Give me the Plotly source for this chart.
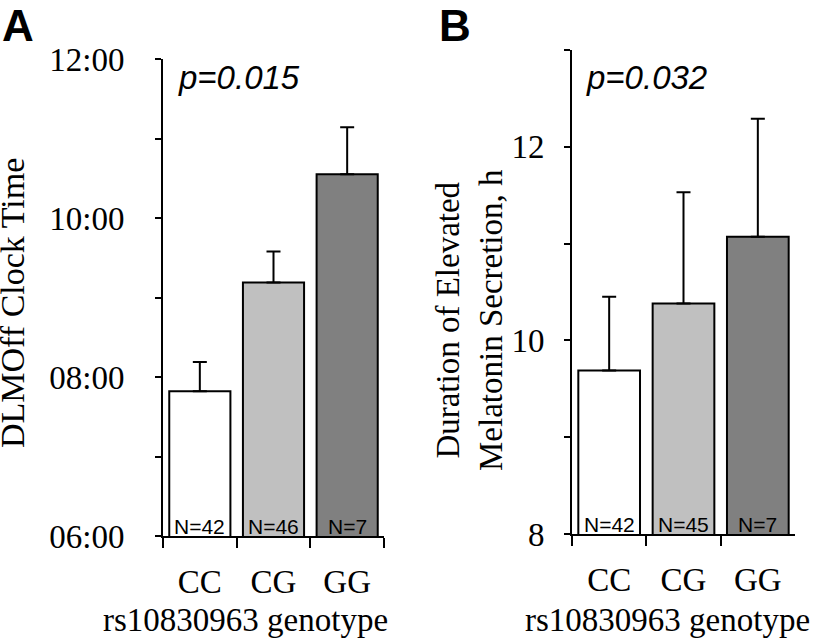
import plotly.graph_objects as go

genotypes = ["CC", "CG", "GG"]
colors = ["#ffffff", "#c0c0c0", "#808080"]

# Panel A: DLMOff clock time (hours)
dlmoff_mean = [7.82, 9.19, 10.55]
dlmoff_err = [0.37, 0.39, 0.59]
dlmoff_n = ["N=42", "N=46", "N=7"]
a_tickvals = [6, 7, 8, 9, 10, 11, 12]
a_ticktext = ["06:00", "", "08:00", "", "10:00", "", "12:00"]

# Panel B: duration of elevated melatonin secretion (h)
dur_mean = [9.69, 10.38, 11.07]
dur_err = [0.76, 1.15, 1.22]
dur_n = ["N=42", "N=45", "N=7"]
b_tickvals = [8, 9, 10, 11, 12, 13]
b_ticktext = ["8", "", "10", "", "12", ""]

SERIF = "Liberation Serif, Times New Roman, serif"
SANS = "Liberation Sans, Arial, sans-serif"
W, H = 817, 641

def px(x):
    return x / W

def py(y):
    return 1 - y / H

fig = go.Figure()

fig.add_trace(go.Bar(
    x=genotypes, y=dlmoff_mean, xaxis="x", yaxis="y",
    marker=dict(color=colors, line=dict(color="black", width=2)),
    error_y=dict(type="data", symmetric=False, array=dlmoff_err,
                 arrayminus=[0, 0, 0], color="black", thickness=2, width=7),
    showlegend=False, hoverinfo="skip",
))
fig.add_trace(go.Bar(
    x=genotypes, y=dur_mean, xaxis="x2", yaxis="y2",
    marker=dict(color=colors, line=dict(color="black", width=2)),
    error_y=dict(type="data", symmetric=False, array=dur_err,
                 arrayminus=[0, 0, 0], color="black", thickness=2, width=7),
    showlegend=False, hoverinfo="skip",
))

xcommon = dict(showline=True, linecolor="black", linewidth=2, ticks="outside",
               ticklen=10, tickwidth=2, tickcolor="black", tickson="boundaries",
               showgrid=False, zeroline=False, ticklabelstandoff=15,
               automargin=False, type="category",
               tickfont=dict(family=SERIF, size=33, color="black"))
ycommon = dict(showline=True, linecolor="black", linewidth=2, ticks="outside",
               ticklen=6, tickwidth=2, tickcolor="black",
               showgrid=False, zeroline=False, automargin=False,
               tickfont=dict(family=SERIF, size=33, color="black"))

fig.update_layout(
    template="none",
    width=W, height=H,
    margin=dict(l=0, r=0, t=0, b=0, pad=0, autoexpand=False),
    paper_bgcolor="white", plot_bgcolor="white",
    bargap=0.17,
    xaxis=dict(domain=[px(163), px(384)], anchor="y", **xcommon),
    yaxis=dict(domain=[py(536), py(59)], anchor="x", range=[6, 12],
               tickvals=a_tickvals, ticktext=a_ticktext,
               ticklabelstandoff=24, **ycommon),
    xaxis2=dict(domain=[px(572), px(795)], anchor="y2", **xcommon),
    yaxis2=dict(domain=[py(534), py(50)], anchor="x2", range=[8, 13],
                tickvals=b_tickvals, ticktext=b_ticktext,
                ticklabelstandoff=13, **ycommon),
)

ann = []
for xr, yr, base, labels in [("x", "y", 6, dlmoff_n), ("x2", "y2", 8, dur_n)]:
    for g, t in zip(genotypes, labels):
        ann.append(dict(x=g, y=base, xref=xr, yref=yr, text=t, showarrow=False,
                        xanchor="center", yanchor="bottom", yshift=-4,
                        font=dict(family=SANS, size=21, color="black")))

def pa(x, y, text, font, size, **kw):
    d = dict(x=px(x), y=py(y), xref="paper", yref="paper", text=text,
             showarrow=False, xanchor="center", yanchor="middle",
             font=dict(family=font, size=size, color="black"))
    d.update(kw)
    return d

ann += [
    pa(18, 26, "<b>A</b>", SANS, 44),
    pa(455, 26, "<b>B</b>", SANS, 44),
    pa(176, 77, "<i>p=0.015</i>", SANS, 33, xanchor="left"),
    pa(584, 77, "<i>p=0.032</i>", SANS, 33, xanchor="left"),
    pa(13, 303, "DLMOff Clock Time", SERIF, 34, textangle=-90),
    pa(469, 320, "Duration of Elevated<br>Melatonin Secretion, h", SERIF, 33,
       textangle=-90),
    pa(246, 620, "rs10830963 genotype", SERIF, 33),
    pa(667, 620, "rs10830963 genotype", SERIF, 33),
]
fig.update_layout(annotations=ann)

fig.write_html("out.html", config={"displayModeBar": False},
               post_script="document.body.style.margin='0';document.body.style.overflow='hidden';")
